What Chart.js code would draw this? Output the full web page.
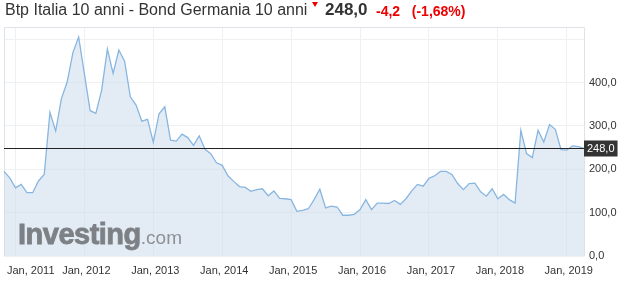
<!DOCTYPE html>
<html>
<head>
<meta charset="utf-8">
<script src="https://cdn.jsdelivr.net/npm/chart.js@4.4.1/dist/chart.umd.min.js"></script>
<style>
  body { margin: 0; background: #fff; font-family: "Liberation Sans", Arial, sans-serif; }
  #wrap { position: relative; width: 633px; height: 290px; }
  #title { position: absolute; left: 5px; top: 0; line-height: 20px; font-size: 16px; color: #333; white-space: nowrap; }
  #arrow { position: absolute; left: 312px; top: 2px; width: 0; height: 0;
           border-left: 3px solid transparent; border-right: 3px solid transparent; border-top: 5px solid #e00; }
  #last { position: absolute; left: 325px; top: 0; line-height: 20px; font-size: 17px; font-weight: bold; color: #333; }
  #chg { position: absolute; left: 376px; top: 1px; line-height: 20px; font-size: 14px; font-weight: bold; color: #e00; white-space: nowrap; }
  #wm { position: absolute; left: 18px; top: 218px; white-space: nowrap; color: #7d8185; pointer-events: none; }
  #wm b { font-size: 29px; font-weight: 900; letter-spacing: -0.5px; -webkit-text-stroke: 0.8px #7d8185; }
  #wm span { font-size: 19px; color: #8e9195; }
</style>
</head>
<body>
<div id="wrap">
  <canvas id="chart" width="633" height="290"></canvas>
  <div id="title">Btp Italia 10 anni - Bond Germania 10 anni</div>
  <div id="arrow"></div>
  <div id="last">248,0</div>
  <div id="chg">-4,2&nbsp;&nbsp;&nbsp;(-1,68%)</div>
  <div id="wm"><b>Investing</b><span>.com</span></div>
</div>
<script>
// mesi da Nov 2010 ad Apr 2019
const monthNames = ['Jan', 'Feb', 'Mar', 'Apr', 'May', 'Jun', 'Jul', 'Aug', 'Sep', 'Oct', 'Nov', 'Dec'];
const labels = [];
for (let i = 0; i < 102; i++) {
    const m = (10 + i) % 12;
    const y = 2010 + Math.floor((10 + i) / 12);
    labels.push(monthNames[m] + ', ' + y);
}

const spread = [
    195, 180, 157, 165, 146, 146, 173, 188, 331, 288,
    363, 401, 469, 505, 420, 335, 329, 382, 477, 421,
    475, 449, 367, 348, 311, 315, 262, 328, 344, 267,
    265, 281, 273, 255, 277, 246, 236, 215, 209, 185,
    172, 160, 158, 149, 153, 155, 139, 150, 133, 132,
    130, 103, 105, 109, 130, 154, 111, 115, 113, 94,
    94, 96, 107, 130, 107, 122, 122, 121, 128, 119,
    132, 150, 165, 161, 179, 185, 195, 195, 188, 167,
    153, 167, 168, 148, 138, 155, 132, 142, 130, 122,
    290, 236, 227, 290, 263, 303, 292, 245, 244, 254,
    252, 248
];

const lastValue = 248.0;

function fmt(v) {
    return v.toFixed(1).replace('.', ',');
}

const extras = {
    id: 'extras',
    beforeDatasetsDraw(chart) {
        const { ctx, chartArea: a } = chart;
        ctx.save();
        ctx.strokeStyle = '#dfe2e6';
        ctx.lineWidth = 1;
        ctx.beginPath();
        ctx.moveTo(a.left + 0.5, a.bottom);
        ctx.lineTo(a.left + 0.5, a.top + 0.5);
        ctx.lineTo(a.right + 0.5, a.top + 0.5);
        ctx.lineTo(a.right + 0.5, a.bottom);
        ctx.stroke();
        ctx.restore();
    },
    afterDatasetsDraw(chart) {
        const { ctx, chartArea: a, scales } = chart;
        const y = Math.round(scales.y.getPixelForValue(lastValue)) + 0.5;
        ctx.save();
        ctx.strokeStyle = '#222';
        ctx.lineWidth = 1;
        ctx.beginPath();
        ctx.moveTo(a.left, y);
        ctx.lineTo(a.right, y);
        ctx.stroke();
        ctx.font = '11px "Liberation Sans", Arial, sans-serif';
        const tw = ctx.measureText(fmt(lastValue)).width;
        ctx.fillStyle = '#333';
        ctx.fillRect(a.right, y - 8, tw + 6, 16);
        ctx.fillStyle = '#fff';
        ctx.textBaseline = 'middle';
        ctx.fillText(fmt(lastValue), a.right + 3, y + 0.5);

        // etichette asse x (solo gennaio)
        ctx.fillStyle = '#333';
        ctx.textAlign = 'center';
        ctx.textBaseline = 'middle';
        labels.forEach(function (l, i) {
            if (!l.startsWith('Jan')) return;
            const w = ctx.measureText(l).width;
            let x = scales.x.getPixelForValue(i) + 2;
            x = Math.max(x, 7 + w / 2);
            ctx.fillText(l, x, 271);
        });
        ctx.restore();
    }
};

new Chart(document.getElementById('chart'), {
    type: 'line',
    data: {
        labels: labels,
        datasets: [{
            data: spread,
            borderColor: '#88b6e0',
            borderWidth: 1.3,
            backgroundColor: 'rgba(196,216,232,0.48)',
            fill: 'origin',
            pointRadius: 0,
            tension: 0
        }]
    },
    options: {
        responsive: false,
        animation: false,
        layout: { padding: { left: 4, top: 27, right: 0, bottom: 0 } },
        plugins: { legend: { display: false }, tooltip: { enabled: false } },
        scales: {
            x: {
                type: 'category',
                offset: false,
                afterFit: function (s) { s.height = 34; },
                border: { display: false },
                grid: {
                    drawTicks: false,
                    color: function (c) {
                        const l = labels[c.index];
                        return l && l.startsWith('Jan') ? '#eef1f4' : 'rgba(0,0,0,0)';
                    }
                },
                ticks: { display: false, autoSkip: false }
            },
            y: {
                position: 'right',
                min: 0,
                max: 528,
                afterFit: function (s) { s.width = 49; },
                border: { display: false },
                grid: { drawTicks: false, color: '#eef1f4' },
                ticks: {
                    stepSize: 100,
                    includeBounds: false,
                    padding: 5,
                    color: '#333',
                    font: { family: '"Liberation Sans", Arial, sans-serif', size: 11 },
                    callback: function (v) { return v === 500 ? '' : fmt(v); }
                }
            }
        }
    },
    plugins: [extras]
});
</script>
</body>
</html>
